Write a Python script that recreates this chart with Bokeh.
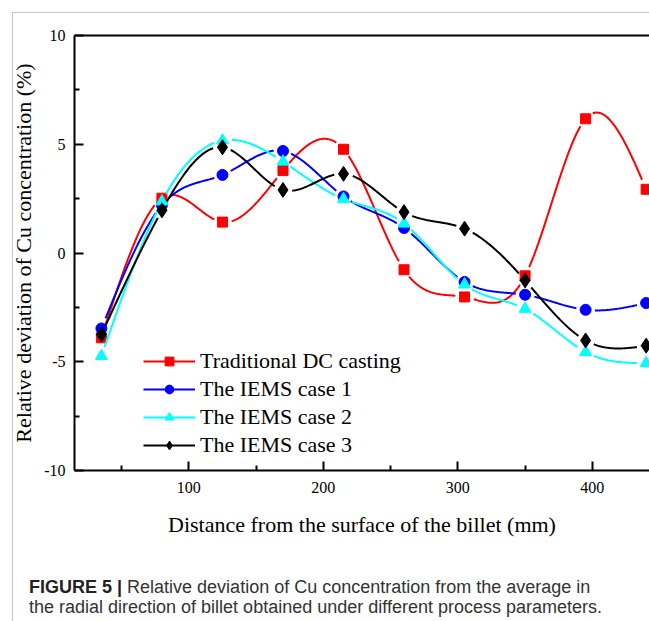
import numpy as np
from bokeh.plotting import figure
from bokeh.layouts import column
from bokeh.models import (Range1d, FixedTicker, LinearAxis, Legend, LegendItem, Div)
from bokeh.embed import file_html
from bokeh.resources import INLINE

# ---- data ----
distance = [35, 80, 125, 170, 215, 260, 305, 350, 395, 440]
traditional_dc = [-3.9, 2.52, 1.42, 3.79, 4.77, -0.77, -2.02, -1.05, 6.17, 2.93]
iems_case1 = [-3.47, 2.2, 3.59, 4.69, 2.6, 1.15, -1.33, -1.92, -2.61, -2.3]
iems_case2 = [-4.74, 2.37, 5.17, 4.2, 2.48, 1.35, -1.45, -2.57, -4.55, -5.06]
iems_case3 = [-3.75, 1.96, 4.86, 2.9, 3.64, 1.88, 1.12, -1.26, -4.02, -4.26]
series_labels = ["Traditional DC casting", "The IEMS case 1", "The IEMS case 2", "The IEMS case 3"]
x_ticks = [100, 200, 300, 400]
x_minor = [50, 150, 250, 350, 450]
y_ticks = [-10, -5, 0, 5, 10]
y_minor = [-7.5, -2.5, 2.5, 7.5]
x_title = "Distance from the surface of the billet (mm)"
y_title = "Relative deviation of Cu concentration (%)"
caption_bold = "FIGURE 5 |"
caption_line1 = "Relative deviation of Cu concentration from the average in"
caption_line2 = "the radial direction of billet obtained under different process parameters."

X0, X1 = 15, 442.5
Y0, Y1 = -10, 10
FW, FH = 575, 435  # frame size in px
KX = FW / (X1 - X0)
KY = FH / (Y1 - Y0)


def natural_spline(x, y, n=60):
    x = np.asarray(x, float)
    y = np.asarray(y, float)
    m = len(x)
    h = np.diff(x)
    A = np.zeros((m, m))
    b = np.zeros(m)
    A[0, 0] = A[-1, -1] = 1
    for i in range(1, m - 1):
        A[i, i - 1] = h[i - 1]
        A[i, i] = 2 * (h[i - 1] + h[i])
        A[i, i + 1] = h[i]
        b[i] = 6 * ((y[i + 1] - y[i]) / h[i] - (y[i] - y[i - 1]) / h[i - 1])
    M = np.linalg.solve(A, b)
    segs = []
    for i in range(m - 1):
        t = np.linspace(x[i], x[i + 1], n)
        a = (x[i + 1] - t) / h[i]
        c = (t - x[i]) / h[i]
        s = (a * y[i] + c * y[i + 1]
             + ((a ** 3 - a) * M[i] + (c ** 3 - c) * M[i + 1]) * h[i] ** 2 / 6)
        segs.append((t, s))
    return segs


def gapped_segments(x, y, r=8.5):
    xs, ys = [], []
    for i, (t, s) in enumerate(natural_spline(x, y)):
        d0 = np.hypot((t - x[i]) * KX, (s - y[i]) * KY)
        d1 = np.hypot((t - x[i + 1]) * KX, (s - y[i + 1]) * KY)
        keep = (d0 > r) & (d1 > r)
        if keep.sum() > 1:
            xs.append(list(t[keep]))
            ys.append(list(s[keep]))
    return xs, ys


GRAY = "1px solid #c8c8c8"

p = figure(width=649, height=573, output_backend="svg", toolbar_location=None,
           x_range=Range1d(X0, X1), y_range=Range1d(Y0, Y1),
           min_border_left=74, min_border_right=0, min_border_top=35, min_border_bottom=103)
p.stylesheets = [
    ":host { position: relative; }"
    ":host::after { content: ''; position: absolute; left: 12px; top: 12px; right: 0; bottom: 0;"
    " border-top: 1px solid #c8c8c8; border-left: 1px solid #c8c8c8;"
    " pointer-events: none; z-index: 50; }"
]
p.grid.visible = False
p.outline_line_color = None
p.background_fill_color = "white"
p.border_fill_color = "white"

serif = "Liberation Serif"

p.xaxis.ticker = FixedTicker(ticks=x_ticks, minor_ticks=x_minor)
p.yaxis.ticker = FixedTicker(ticks=y_ticks, minor_ticks=y_minor)
p.yaxis.major_label_overrides = {-10: "-10", -5: "-5", 0: "0", 5: "5", 10: "10"}
for ax in (p.xaxis[0], p.yaxis[0]):
    ax.axis_line_width = 2
    ax.axis_line_color = "black"
    ax.major_tick_in = 9
    ax.major_tick_out = 0
    ax.minor_tick_in = 5
    ax.minor_tick_out = 0
    ax.major_tick_line_width = 2
    ax.minor_tick_line_width = 2
    ax.major_label_text_font = serif
    ax.major_label_text_font_size = "16px"
    ax.major_label_text_color = "black"
    ax.axis_label_text_font = serif
    ax.axis_label_text_font_size = "22px"
    ax.axis_label_text_font_style = "normal"
    ax.axis_label_text_color = "black"
p.xaxis.axis_label = x_title
p.yaxis.axis_label = y_title
p.xaxis.major_label_standoff = 11
p.xaxis.axis_label_standoff = 16
p.yaxis.major_label_standoff = 9
p.yaxis.axis_label_standoff = 5

top = LinearAxis(ticker=FixedTicker(ticks=[]), axis_line_width=2, axis_line_color="black",
                 major_tick_line_color=None, minor_tick_line_color=None,
                 major_label_text_font_size="0px")
p.add_layout(top, "above")

colors = ["#ff0000", "#0000ff", "#00ffff", "#000000"]
markers = ["square", "circle", "triangle", "diamond"]
sizes = [10, 11, 12, 15]
all_y = [traditional_dc, iems_case1, iems_case2, iems_case3]

items = []
for yv, col, mk, sz, lab in zip(all_y, colors, markers, sizes, series_labels):
    xs, ys = gapped_segments(distance, yv)
    lr = p.multi_line(xs, ys, line_color=col, line_width=2)
    sr = p.scatter(distance, yv, marker=mk, size=sz,
                   fill_color=col, line_color=col, line_width=1)
    items.append(LegendItem(label=lab, renderers=[lr, sr]))

legend = Legend(items=items, location=(69, 12), padding=0, margin=0, spacing=2,
                glyph_width=52, glyph_height=22, label_height=22, label_standoff=5,
                label_text_font=serif, label_text_font_size="22px", label_text_color="black",
                border_line_color=None, background_fill_alpha=0)
p.add_layout(legend)

caption_html = (
    '<div style="font-family:\'Liberation Sans\',Arial,sans-serif;font-size:18px;'
    'line-height:20px;color:#333333;padding:4px 0 0 16px;white-space:nowrap;">'
    f'<b style="color:#222222;">{caption_bold}</b> {caption_line1}<br>{caption_line2}</div>'
)
cap = Div(text=caption_html, width=636, height=48, margin=(0, 0, 0, 12),
          styles={"border-left": GRAY})

layout = column(p, cap, spacing=0)
open("out.html", "w").write(file_html(layout, INLINE))
